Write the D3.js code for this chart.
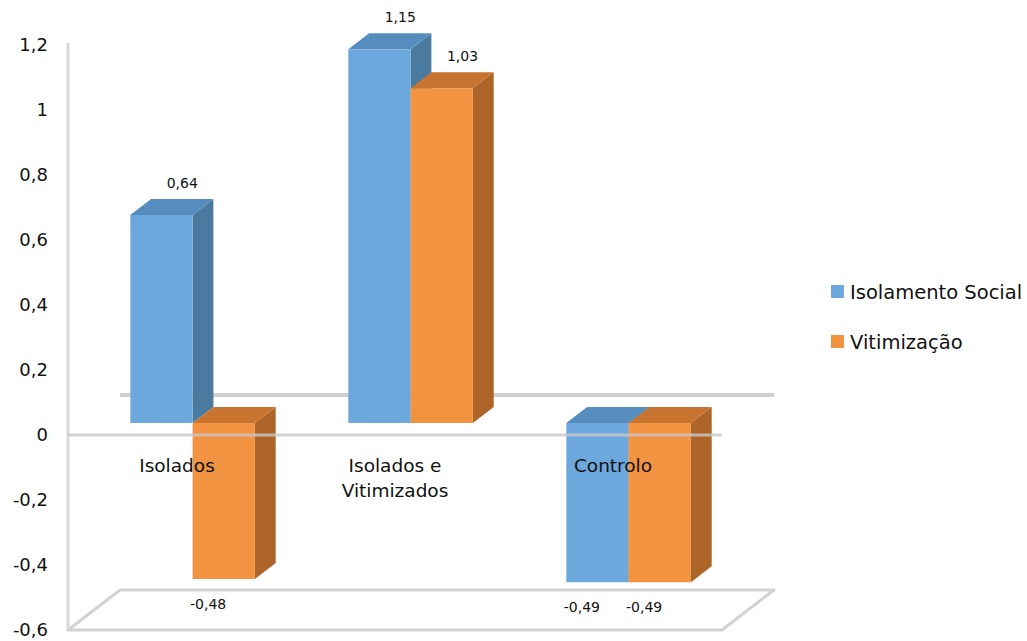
<!DOCTYPE html>
<html>
<head>
<meta charset="utf-8">
<script src="https://cdn.jsdelivr.net/npm/d3@7"></script>
<style>
  html, body { margin: 0; padding: 0; background: #fff; }
  svg { display: block; }
  text { font-family: "DejaVu Sans", Verdana, sans-serif; fill: #111; }
</style>
</head>
<body>
<svg id="chart" width="1027" height="641"></svg>
<script>
// Group labels and the two standardised scores per group
const categories = ["Isolados", "Isolados e Vitimizados", "Controlo"];
const categoryLines = [["Isolados"], ["Isolados e", "Vitimizados"], ["Controlo"]];
const seriesNames = ["Isolamento Social", "Vitimização"];
const isolamentoSocial = [0.64, 1.15, -0.49];
const vitimizacao = [-0.48, 1.03, -0.49];
const yTicks = [-0.6, -0.4, -0.2, 0, 0.2, 0.4, 0.6, 0.8, 1, 1.2];

const seriesValues = [isolamentoSocial, vitimizacao];

// Face colours: front, top, side
const palette = [
  { front: "#6da8dc", top: "#568dbf", side: "#4a7aa0" },
  { front: "#f19340", top: "#c87330", side: "#ad6428" }
];

const svg = d3.select("#chart");
const locale = d3.formatLocale({ decimal: ",", thousands: ".", grouping: [3], currency: ["", ""] });
const fmt = v => locale.format("~g")(v).replace("−", "-");

// Front plane of the plot box
const left = 68, right = 722;
const y = d3.scaleLinear().domain([-0.6, 1.2]).range([630, 45]);

// Oblique depth: full box depth shift
const depthDX = 52, depthDY = -40;
const proj = (xf, v, d) => [xf + d * depthDX, y(v) + d * depthDY];

// Categories fill the front width; bars take 2 of 3.5 slots (150% gap)
const x0 = d3.scaleBand().domain(categories).range([left, right]).padding(0);
const barW = x0.bandwidth() / 3.5;
const x1 = d3.scaleBand().domain(seriesNames).range([0, 2 * barW]).padding(0);
const groupOffset = (x0.bandwidth() - 2 * barW) / 2;

const dFront = 0.3, dBack = 0.7;

const gridColor = "#d2d2d2";

// Back wall zero line
const bz0 = proj(left, 0, 1), bz1 = proj(right, 0, 1);
svg.append("line").attr("x1", bz0[0]).attr("y1", bz0[1]).attr("x2", bz1[0]).attr("y2", bz1[1])
  .attr("stroke", "#cfcfcf").attr("stroke-width", 4);

// Floor outline
const f = [proj(left, -0.6, 0), proj(right, -0.6, 0), proj(right, -0.6, 1), proj(left, -0.6, 1)];
svg.append("path")
  .attr("d", d3.line()([f[0], f[1], f[2], f[3]]) + "Z")
  .attr("fill", "none").attr("stroke", gridColor).attr("stroke-width", 3)
  .attr("stroke-linejoin", "round");

// Vertical value axis line
svg.append("line").attr("x1", left).attr("y1", y(1.2) - 2).attr("x2", left).attr("y2", y(-0.6))
  .attr("stroke", "#dadada").attr("stroke-width", 3);

// Tick labels via d3 axis
const axis = d3.axisLeft(y).tickValues(yTicks).tickFormat(fmt).tickSize(0).tickPadding(20);
const axisG = svg.append("g").attr("transform", `translate(${left},0)`).call(axis);
axisG.select(".domain").remove();
axisG.selectAll("text")
  .attr("font-family", "DejaVu Sans, Verdana, sans-serif")
  .attr("font-size", 18).attr("fill", "#111");

// Bars as three visible faces
const bars = [];
categories.forEach((c, ci) => {
  seriesNames.forEach((s, si) => {
    bars.push({ c, ci, s, si, v: seriesValues[si][ci] });
  });
});

const barsG = svg.append("g");
bars.forEach(b => {
  const xl = x0(b.c) + groupOffset + x1(b.s);
  const xr = xl + x1.bandwidth();
  const hi = Math.max(b.v, 0), lo = Math.min(b.v, 0);
  const col = palette[b.si];
  const g = barsG.append("g");
  const line = d3.line();
  // side face
  g.append("path").attr("d", line([proj(xr, hi, dFront), proj(xr, hi, dBack), proj(xr, lo, dBack), proj(xr, lo, dFront)]) + "Z")
    .attr("fill", col.side);
  // top face
  g.append("path").attr("d", line([proj(xl, hi, dFront), proj(xl, hi, dBack), proj(xr, hi, dBack), proj(xr, hi, dFront)]) + "Z")
    .attr("fill", col.top);
  // front face
  g.append("path").attr("d", line([proj(xl, hi, dFront), proj(xr, hi, dFront), proj(xr, lo, dFront), proj(xl, lo, dFront)]) + "Z")
    .attr("fill", col.front);
  b.xl = xl; b.xr = xr;
});

// Front zero line, drawn over the bars
svg.append("line").attr("x1", left).attr("y1", y(0)).attr("x2", right).attr("y2", y(0))
  .attr("stroke", "#c8c8c8").attr("stroke-width", 3).attr("stroke-opacity", 0.8);

// Value labels
svg.append("g").selectAll("text").data(bars).join("text")
  .attr("text-anchor", "middle")
  .attr("font-size", 14)
  .attr("x", b => b.v >= 0 ? proj((b.xl + b.xr) / 2, b.v, dBack)[0] : proj((b.xl + b.xr) / 2, b.v, 0)[0])
  .attr("y", b => b.v >= 0 ? proj(0, b.v, dBack)[1] - 11 : proj(0, b.v, dFront)[1] + 30)
  .text(b => fmt(b.v));

// Category labels
const catG = svg.append("g");
categories.forEach((c, ci) => {
  const cx = x0(c) + x0.bandwidth() / 2;
  const t = catG.append("text").attr("text-anchor", "middle").attr("font-size", 18.5)
    .attr("x", cx).attr("y", 472);
  categoryLines[ci].forEach((ln, li) => {
    t.append("tspan").attr("x", cx).attr("dy", li === 0 ? 0 : 25).text(ln);
  });
});

// Legend
const legend = svg.append("g").attr("transform", "translate(831,285)");
seriesNames.forEach((s, si) => {
  const row = legend.append("g").attr("transform", `translate(0,${si * 50})`);
  row.append("rect").attr("width", 13).attr("height", 13).attr("fill", palette[si].front);
  row.append("text").attr("x", 19).attr("y", 14).attr("font-size", 19.5).text(s);
});
</script>
</body>
</html>
